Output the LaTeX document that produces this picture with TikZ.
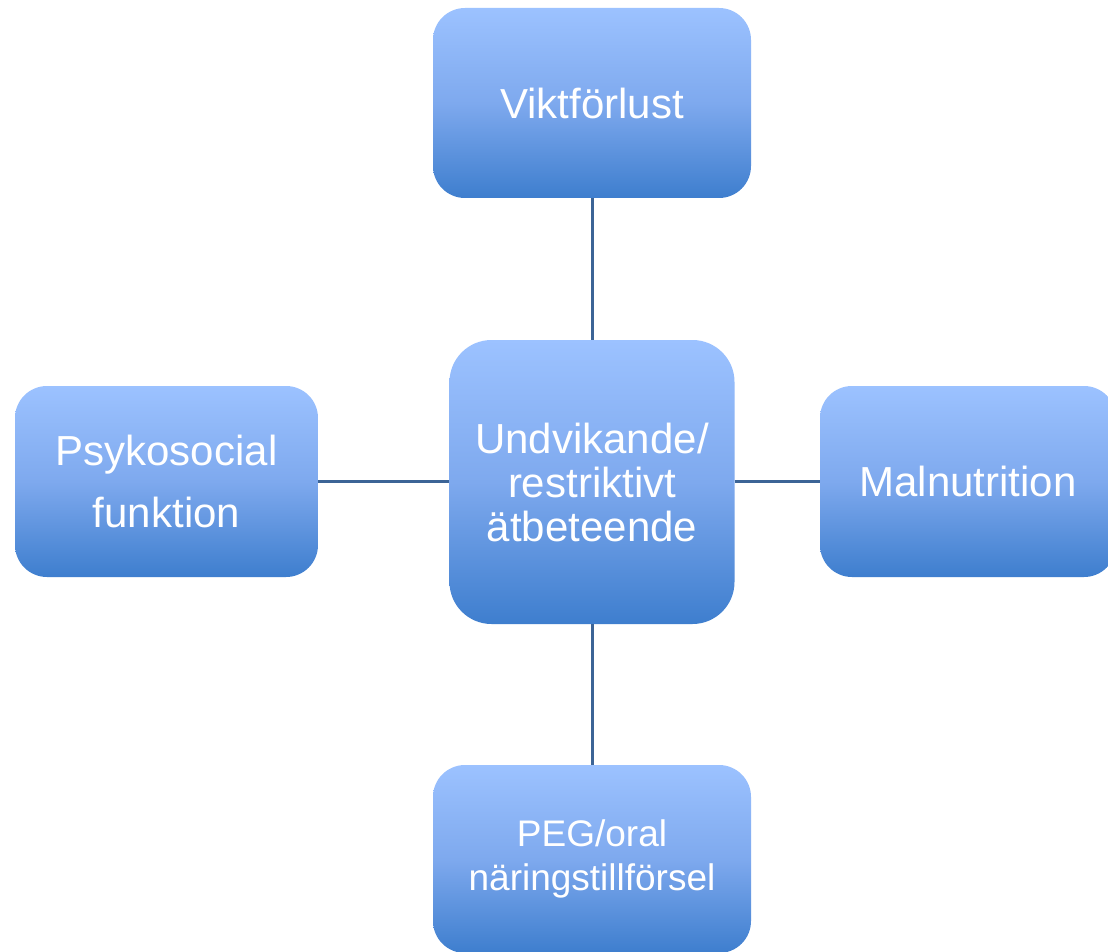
\documentclass[tikz,border=0pt]{standalone}
\usepackage{fontspec}
\setmainfont{Liberation Sans}
\definecolor{boxtop}{HTML}{9CC2FF}
\definecolor{boxmid}{HTML}{7EA9EE}
\definecolor{boxbot}{HTML}{3E7ECE}
\definecolor{linkcol}{HTML}{3C6496}
\begin{document}
\begin{tikzpicture}[x=1pt,y=-1pt,
  box/.style={rounded corners=32pt, top color=boxtop, bottom color=boxbot, middle color=boxmid,
    draw=none, text=white, align=center, inner sep=0pt},
  bigtxt/.style={font=\fontsize{42}{44}\selectfont},
  smalltxt/.style={font=\fontsize{37}{44}\selectfont},
  link/.style={draw=linkcol, line width=3pt}]
\useasboundingbox (0,0) rectangle (1108,952);
\fill[white] (0,0) rectangle (1108,952);
\node[box, bigtxt, minimum width=318pt, minimum height=190pt] (top) at (592,103) {Viktförlust};
\node[box, bigtxt, rounded corners=42pt, minimum width=285pt, minimum height=284pt] (mid) at (592,482) {Undvikande/\\restriktivt\\ätbeteende};
\node[box, font=\fontsize{42}{62}\selectfont, minimum width=303pt, minimum height=191pt] (left) at (166.5,481.5) {Psykosocial\\funktion};
\node[box, bigtxt, minimum width=296pt, minimum height=191pt] (right) at (968,481.5) {Malnutrition};
\node[box, smalltxt, minimum width=318pt, minimum height=188pt] (bot) at (592,859) {PEG/oral\\näringstillförsel};
\draw[link] (top.south) -- (mid.north);
\draw[link] (mid.south) -- (bot.north);
\draw[link] (left.east |- 0,481) -- (mid.west |- 0,481);
\draw[link] (mid.east |- 0,481) -- (right.west |- 0,481);
\end{tikzpicture}
\end{document}
